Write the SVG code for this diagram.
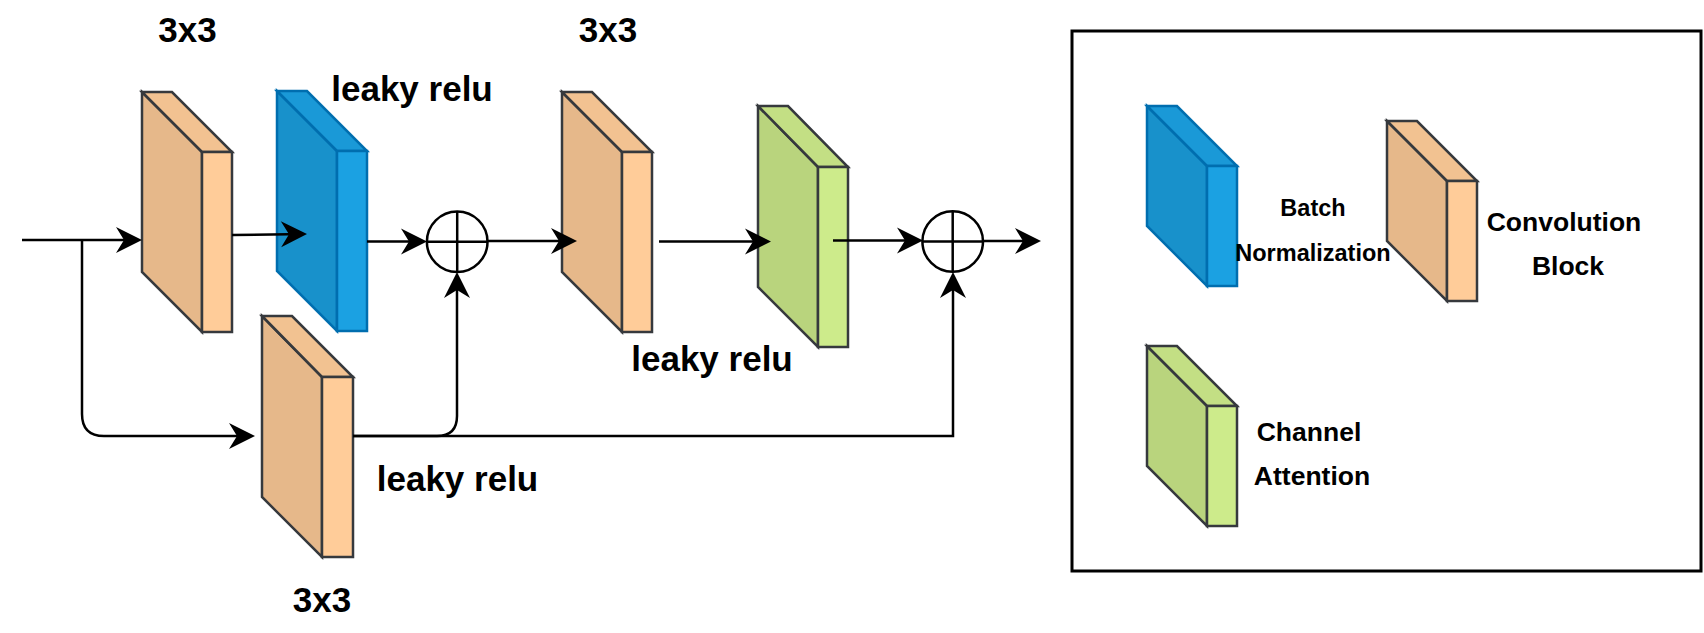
<svg xmlns="http://www.w3.org/2000/svg" width="1704" height="633" viewBox="0 0 1704 633">
<style>
.edge{fill:none;stroke:#000;stroke-width:2.5;marker-end:url(#arr)}
.ol{stroke:#36393D;stroke-width:2.5;stroke-linejoin:miter}
.bl{stroke:#006EAF;stroke-width:2.5;stroke-linejoin:miter}
.o-f{fill:#FFCC99}.o-s{fill:#E6B88A}.o-t{fill:#F2C291}
.b-f{fill:#1BA1E2}.b-s{fill:#1891CB}.b-t{fill:#1A99D7}
.g-f{fill:#CDEB8B}.g-s{fill:#B9D47D}.g-t{fill:#C3DF84}
.sum{fill:none;stroke:#000;stroke-width:2.5}
.lbl{font-family:"Liberation Sans",Arial,sans-serif;font-weight:bold;fill:#000;text-anchor:middle}
.big{font-size:35px}
.leg{font-size:26.5px}
.legs{font-size:23.5px}
</style>
<defs>
<marker id="arr" markerUnits="userSpaceOnUse" markerWidth="30" markerHeight="28" viewBox="-27 -14 30 28" refX="-18" refY="0" orient="auto" overflow="visible">
<path d="M-26,-13 L0,0 L-26,13 L-18,0 Z" fill="#000"/>
</marker>
</defs>

<g id="conv1" class="ol">
<path class="o-s" d="M142,92 L202,152 L202,332 L142,272 Z"/>
<path class="o-t" d="M142,92 L172,92 L232,152 L202,152 Z"/>
<rect class="o-f" x="202" y="152" width="30" height="180"/>
</g>

<g id="bn1" class="bl">
<path class="b-s" d="M277,91 L337,151 L337,331 L277,271 Z"/>
<path class="b-t" d="M277,91 L307,91 L367,151 L337,151 Z"/>
<rect class="b-f" x="337" y="151" width="30" height="180"/>
</g>

<g id="conv3" class="ol">
<path class="o-s" d="M262,316 L322,377 L322,557 L262,497 Z"/>
<path class="o-t" d="M262,316 L292,316 L353,377 L322,377 Z"/>
<rect class="o-f" x="322" y="377" width="31" height="180"/>
</g>

<g id="conv2" class="ol">
<path class="o-s" d="M562,92 L622,152 L622,332 L562,272 Z"/>
<path class="o-t" d="M562,92 L592,92 L652,152 L622,152 Z"/>
<rect class="o-f" x="622" y="152" width="30" height="180"/>
</g>

<g id="ca1" class="ol">
<path class="g-s" d="M758,106 L818,167 L818,347 L758,287 Z"/>
<path class="g-t" d="M758,106 L788,106 L848,167 L818,167 Z"/>
<rect class="g-f" x="818" y="167" width="30" height="180"/>
</g>

<g id="sum1">
<circle class="sum" cx="457.2" cy="241.7" r="30.3"/>
<line class="sum" x1="426.9" y1="241.7" x2="487.5" y2="241.7"/>
<line class="sum" x1="457.2" y1="211.4" x2="457.2" y2="272"/>
</g>

<g id="sum2">
<circle class="sum" cx="952.7" cy="241.5" r="30.3"/>
<line class="sum" x1="922.4" y1="241.5" x2="983" y2="241.5"/>
<line class="sum" x1="952.7" y1="211.2" x2="952.7" y2="271.8"/>
</g>

<g id="connectors">
<path class="edge" d="M22,240 H124"/>
<path class="edge" d="M82,240 V414 Q82,436 104,436 H237"/>
<path class="edge" d="M232,235 L289,234.24"/>
<path class="edge" d="M367,241.5 H409"/>
<path class="edge" d="M488,241 H559"/>
<path class="edge" d="M659,241.5 H753"/>
<path class="edge" d="M833,240.5 H905"/>
<path class="edge" d="M983,241 H1023"/>
<path class="edge" d="M353,436 H437 Q457,436 457,416 V290"/>
<path class="edge" d="M353,436 H953 V290"/>
</g>

<g id="labels">
<text class="lbl big" x="187.5" y="42">3x3</text>
<text class="lbl big" x="412" y="101">leaky relu</text>
<text class="lbl big" x="608" y="42">3x3</text>
<text class="lbl big" x="712" y="371">leaky relu</text>
<text class="lbl big" x="457.5" y="491">leaky relu</text>
<text class="lbl big" x="322" y="612">3x3</text>
</g>

<g id="legend">
<rect x="1072" y="31" width="629" height="540" fill="none" stroke="#000" stroke-width="3"/>
<g id="leg-bn" class="bl">
<path class="b-s" d="M1147,106 L1207,166 L1207,286 L1147,226 Z"/>
<path class="b-t" d="M1147,106 L1177,106 L1237,166 L1207,166 Z"/>
<rect class="b-f" x="1207" y="166" width="30" height="120"/>
</g>
<g id="leg-conv" class="ol">
<path class="o-s" d="M1387,121 L1447,181 L1447,301 L1387,241 Z"/>
<path class="o-t" d="M1387,121 L1417,121 L1477,181 L1447,181 Z"/>
<rect class="o-f" x="1447" y="181" width="30" height="120"/>
</g>
<g id="leg-ca" class="ol">
<path class="g-s" d="M1147,346 L1207,406 L1207,526 L1147,466 Z"/>
<path class="g-t" d="M1147,346 L1177,346 L1237,406 L1207,406 Z"/>
<rect class="g-f" x="1207" y="406" width="30" height="120"/>
</g>
<text class="lbl legs" x="1313" y="216">Batch</text>
<text class="lbl legs" x="1313" y="261">Normalization</text>
<text class="lbl leg" x="1564" y="231">Convolution</text>
<text class="lbl leg" x="1568" y="275">Block</text>
<text class="lbl leg" x="1309" y="441">Channel</text>
<text class="lbl leg" x="1312" y="485">Attention</text>
</g>
</svg>
